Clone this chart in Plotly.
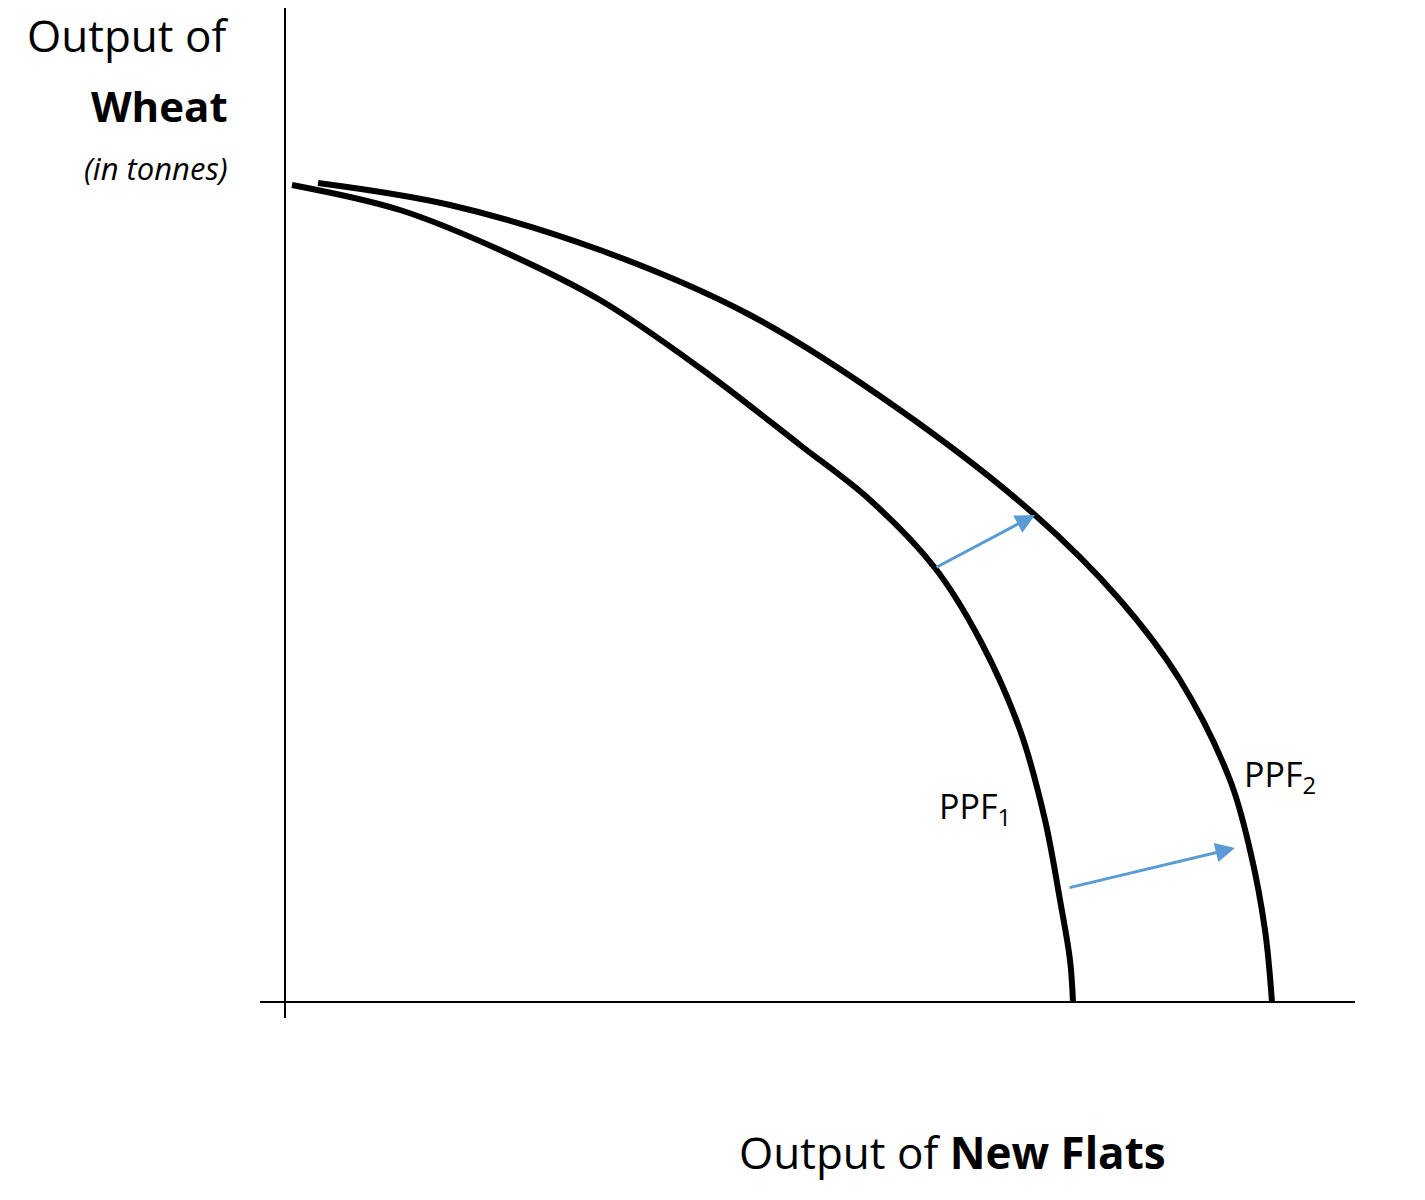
import plotly.graph_objects as go

# curve points (origin at the axes corner)
ppf1_x = [7, 115, 215, 315, 415, 515, 585, 650, 695, 735, 760, 775, 785, 788]
ppf1_y = [817, 792, 752, 702, 634, 557, 502, 434, 362, 272, 182, 102, 42, 0]
ppf2_x = [33, 165, 315, 465, 615, 750, 835, 895, 945, 965, 980, 987]
ppf2_y = [819, 797, 752, 687, 592, 487, 402, 322, 222, 152, 72, 0]

# shift arrows: (start_x, start_y, end_x, end_y)
shift_arrows = [(650, 434, 750, 487), (783, 114, 950, 154)]

font = "Open Sans"

fig = go.Figure()
fig.add_trace(go.Scatter(x=ppf1_x, y=ppf1_y, mode="lines", line=dict(color="black", width=6, shape="spline")))
fig.add_trace(go.Scatter(x=ppf2_x, y=ppf2_y, mode="lines", line=dict(color="black", width=6, shape="spline")))

# axes lines
fig.add_shape(type="line", x0=0, x1=0, y0=-16, y1=1002, line=dict(color="black", width=2))
fig.add_shape(type="line", x0=-25, x1=1070, y0=0, y1=0, line=dict(color="black", width=2))
# green border on the right edge
fig.add_shape(type="line", x0=1137, x1=1137, y0=-133, y1=1002, line=dict(color="#3cb043", width=3))

for x0, y0, x1, y1 in shift_arrows:
    fig.add_annotation(x=x1, y=y1, ax=x0, ay=y0, xref="x", yref="y", axref="x", ayref="y",
                       showarrow=True, arrowhead=2, arrowsize=1.3, arrowwidth=3,
                       arrowcolor="#5b9bd5", text="")

fig.add_annotation(x=690, y=194, text="PPF<sub>1</sub>", showarrow=False,
                   font=dict(family=font, size=34, color="black"))
fig.add_annotation(x=995, y=226, text="PPF<sub>2</sub>", showarrow=False,
                   font=dict(family=font, size=34, color="black"))

fig.add_annotation(x=-55, y=967, text="Output of", showarrow=False, xanchor="right",
                   font=dict(family=font, size=44, color="black"))
fig.add_annotation(x=-55, y=897, text="<b>Wheat</b>", showarrow=False, xanchor="right",
                   font=dict(family=font, size=42, color="black"))
fig.add_annotation(x=-55, y=834, text="<i>(in tonnes)</i>", showarrow=False, xanchor="right",
                   font=dict(family=font, size=31, color="black"))
fig.add_annotation(x=667, y=-150, text="Output of <b>New Flats</b>", showarrow=False,
                   font=dict(family=font, size=44, color="black"))

# page body has an 8px margin, so ranges are shifted to keep the origin in place
fig.update_xaxes(range=[-277, 1148], visible=False)
fig.update_yaxes(range=[-206, 994], visible=False)
fig.update_layout(width=1425, height=1200, margin=dict(l=0, r=0, t=0, b=0),
                  plot_bgcolor="white", paper_bgcolor="white", showlegend=False)

fig.write_html("out.html")
